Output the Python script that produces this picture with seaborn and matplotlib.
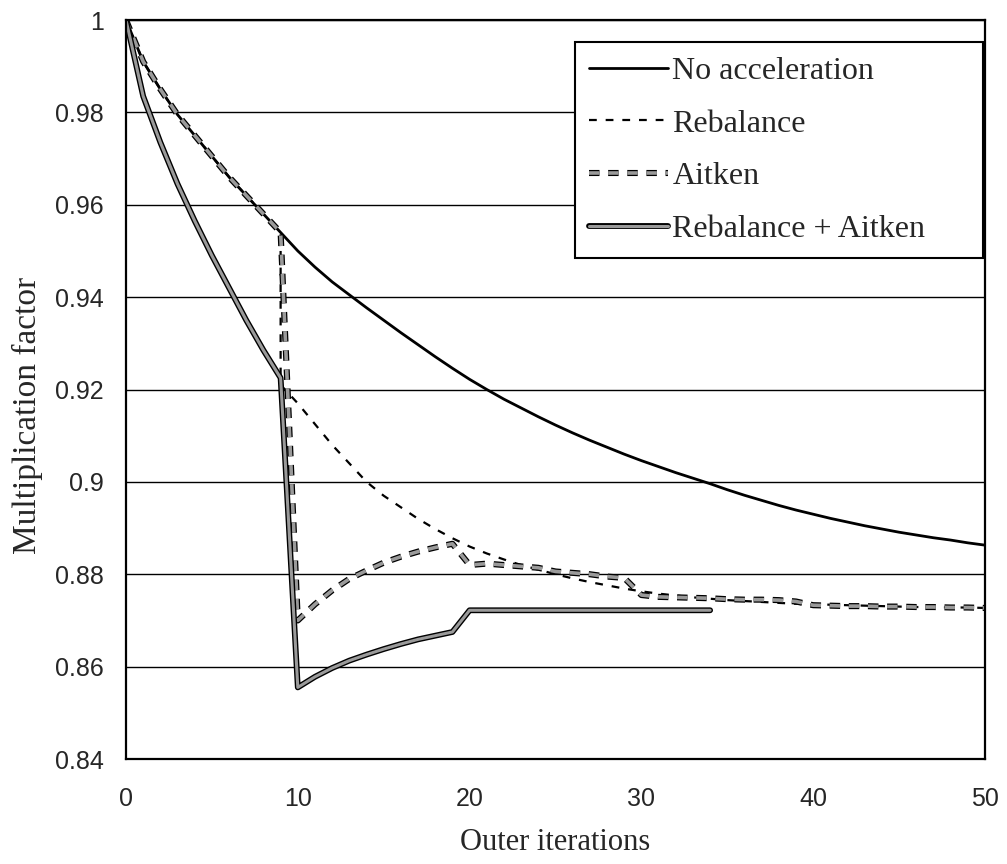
import numpy as np
import pandas as pd
import seaborn as sns
import matplotlib
matplotlib.use("Agg")
import matplotlib.pyplot as plt
import matplotlib.patheffects as pe

# valores
iter_sin = list(range(0, 51))
k_sin = [1.0, 0.991, 0.985, 0.9795, 0.975, 0.9705, 0.966, 0.962, 0.958, 0.954,
         0.950, 0.9465, 0.9433, 0.9405, 0.9377, 0.935, 0.9323, 0.9297, 0.9271, 0.9246,
         0.9222, 0.920, 0.9179, 0.916, 0.9141, 0.9123, 0.9106, 0.909, 0.9075, 0.906,
         0.9046, 0.9033, 0.902, 0.9008, 0.8996, 0.8983, 0.8971, 0.896, 0.8949, 0.8939,
         0.893, 0.8921, 0.8913, 0.8905, 0.8898, 0.8891, 0.8885, 0.8879, 0.8874, 0.8868,
         0.8863]

iter_rebal = list(range(0, 10)) + [9] + list(range(10, 51))
k_rebal = [1.0, 0.991, 0.985, 0.9795, 0.975, 0.9705, 0.966, 0.962, 0.958, 0.954,
           0.921, 0.917, 0.9125, 0.908, 0.904, 0.900, 0.897, 0.8945, 0.892, 0.8898,
           0.8878, 0.886, 0.8845, 0.8832, 0.882, 0.881, 0.880, 0.8791, 0.8783, 0.8776,
           0.8769, 0.8763, 0.8758, 0.8754, 0.875, 0.8747, 0.8744, 0.8742, 0.874, 0.8738,
           0.8736, 0.8735, 0.8734, 0.8733, 0.8732, 0.8731, 0.873, 0.8729, 0.8729, 0.8728,
           0.8728, 0.8727]

iter_aitken = list(range(0, 51))
k_aitken = [1.0, 0.991, 0.985, 0.9795, 0.975, 0.9705, 0.966, 0.962, 0.958, 0.954,
            0.870, 0.8735, 0.8765, 0.879, 0.8808, 0.8825, 0.8838, 0.8849, 0.8858, 0.8866,
            0.882, 0.8823, 0.882, 0.8817, 0.8814, 0.8806, 0.8803, 0.880, 0.8795, 0.8792,
            0.8755, 0.8751, 0.875, 0.8749, 0.8748, 0.8746, 0.8745, 0.8745, 0.8744, 0.8741,
            0.8733, 0.8732, 0.8731, 0.8731, 0.873, 0.873, 0.8729, 0.8729, 0.8728, 0.8728,
            0.8727]

iter_ambos = list(range(0, 35))
k_ambos = [1.0, 0.9835, 0.9735, 0.9645, 0.9565, 0.949, 0.942, 0.935, 0.9285, 0.9225,
           0.8555, 0.8578, 0.8597, 0.8613, 0.8626, 0.8638, 0.8649, 0.8659, 0.8667, 0.8675,
           0.8722, 0.8722, 0.8722, 0.8722, 0.8722, 0.8722, 0.8722, 0.8722, 0.8722, 0.8722,
           0.8722, 0.8722, 0.8722, 0.8722, 0.8722]

y_ticks = [0.84, 0.86, 0.88, 0.90, 0.92, 0.94, 0.96, 0.98, 1.0]
y_labels = ["0.84", "0.86", "0.88", "0.9", "0.92", "0.94", "0.96", "0.98", "1"]
x_ticks = [0, 10, 20, 30, 40, 50]

sns.set_style("white")
plt.rcParams["font.family"] = ["Liberation Sans", "DejaVu Sans"]

fig, ax = plt.subplots(figsize=(10.07, 8.64), dpi=100)
fig.subplots_adjust(left=126/1007, right=985/1007, top=1-20/864, bottom=1-759/864)

# lineas de la grilla
for yt in y_ticks:
    ax.axhline(yt, color="black", lw=1.0, zorder=0.5)

sns.lineplot(x=iter_sin, y=k_sin, ax=ax, color="black", lw=2.0,
             estimator=None, sort=False, label="No acceleration")
sns.lineplot(x=iter_rebal, y=k_rebal, ax=ax, color="black", lw=1.6,
             linestyle=(0, (3.5, 4.0)), estimator=None, sort=False, label="Rebalance")
sns.lineplot(x=iter_aitken, y=k_aitken, ax=ax, color="#9a9a9a", lw=2.6,
             linestyle=(0, (2.9, 2.4)), estimator=None, sort=False, label="Aitken",
             path_effects=[pe.Stroke(linewidth=4.4, foreground="black"), pe.Normal()])
sns.lineplot(x=iter_ambos, y=k_ambos, ax=ax, color="#9a9a9a", lw=2.2,
             estimator=None, sort=False, label="Rebalance + Aitken",
             path_effects=[pe.Stroke(linewidth=4.2, foreground="black"), pe.Normal()])

ax.set_xlim(0, 50)
ax.set_ylim(0.84, 1.0)
ax.set_xticks(x_ticks)
ax.set_yticks(y_ticks)
ax.set_yticklabels(y_labels)
ax.tick_params(axis="both", direction="in", length=5, width=1.2, labelsize=18)
ax.tick_params(axis="y", pad=16)
ax.tick_params(axis="x", pad=20)
for s in ax.spines.values():
    s.set_color("black")
    s.set_linewidth(1.6)

ax.set_xlabel("Outer iterations", fontsize=22, family=["Liberation Serif"], va="top")
ax.xaxis.set_label_coords(0.5, -0.093)
ax.set_ylabel("Multiplication factor", fontsize=24, family=["Liberation Serif"])
ax.yaxis.set_label_coords(-0.097, 0.465)

leg = ax.legend(loc="upper left", bbox_to_anchor=(0.5227, 0.5, 0.475, 0.470),
                mode="expand", borderaxespad=0,
                prop={"family": "Liberation Serif", "size": 23}, frameon=True,
                fancybox=False, edgecolor="black", framealpha=1,
                handlelength=2.45, handletextpad=0.15, labelspacing=0.73, borderpad=0.45)
leg.get_frame().set_linewidth(1.5)

plt.savefig("out.png", dpi=100)
